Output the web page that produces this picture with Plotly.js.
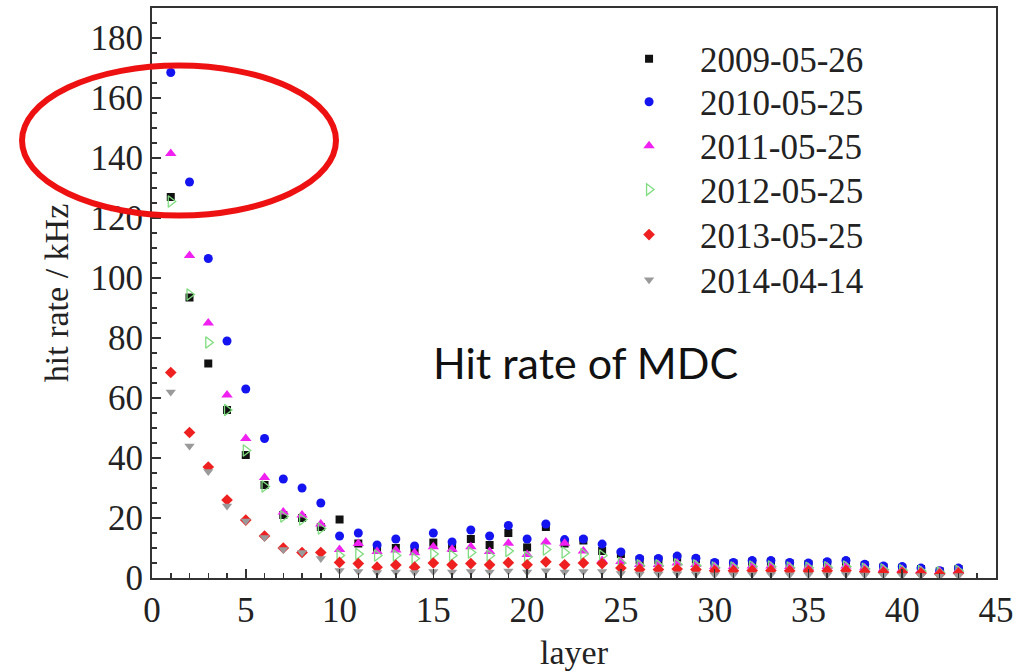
<!DOCTYPE html>
<html>
<head>
<meta charset="utf-8">
<script src="https://cdn.plot.ly/plotly-3.0.1.min.js"></script>
<style>html,body{margin:0;padding:0;background:#fff;}#chart{width:1033px;height:671px;}</style>
</head>
<body>
<div id="chart"></div>
<script>
const layers = Array.from({length: 43}, (_, i) => i + 1);
const seriesNames = ["2009-05-26", "2010-05-25", "2011-05-25", "2012-05-25", "2013-05-25", "2014-04-14"];

const rate2009 = [127, 93.5, 71.5, 56, 41, 31, 21, 20, 17, 19.5, 11.5, 9.5, 10, 9, 11.8, 10, 13, 11, 15, 10.2, 17, 11.5, 12.5, 9, 8, 6, 6, 6.8, 6.2, 4.8, 4.8, 5.4, 5.4, 4.8, 4.6, 5, 5.4, 4.2, 3.6, 3.4, 3, 2.2, 3];
const rate2010 = [168.5, 132, 106.5, 79, 63, 46.5, 33, 30, 25, 14, 15, 11, 13, 10.7, 15, 12, 16, 14, 17.5, 13, 18, 12.8, 13, 11.3, 8.7, 6.5, 6.5, 7.3, 6.6, 5.2, 5.2, 5.8, 5.8, 5.2, 5, 5.4, 5.8, 4.6, 4, 3.8, 3.3, 2.4, 3.3];
const rate2011 = [141.5, 107.5, 85, 61, 46.5, 33.5, 22, 21, 18, 9.5, 11.5, 8.8, 9.3, 8.4, 10.4, 9.6, 10.4, 8.8, 11.6, 7.8, 12, 11.6, 9, 5.8, 5.5, 4.5, 4.5, 5, 4.5, 3.8, 3.8, 4, 4, 3.8, 3.6, 3.8, 4, 3.4, 3, 2.8, 2.5, 2.2, 2.5];
const rate2012 = [125.5, 94.5, 78.5, 56, 42.5, 30.5, 20.5, 19.5, 16.5, 7.5, 8, 7.5, 7.5, 6.5, 8, 7.5, 8.5, 7.5, 9, 7, 9.5, 8.5, 8, 7.5, 5, 4.2, 4.2, 4.6, 4.2, 3.5, 3.5, 3.8, 3.8, 3.5, 3.4, 3.6, 3.8, 3.1, 2.8, 2.6, 2.3, 1.8, 2.3];
const rate2013 = [68.5, 48.5, 37, 26, 19.3, 14, 10, 8.5, 8.5, 5.2, 4.8, 3.6, 4.3, 3.6, 5, 4.4, 4.8, 4.4, 5.1, 4.4, 5.4, 4.4, 5, 4.8, 3.3, 2.8, 2.8, 3, 2.8, 2.4, 2.4, 2.5, 2.5, 2.4, 2.3, 2.4, 2.5, 2.1, 1.9, 1.8, 1.6, 1.3, 1.6];
const rate2014 = [62, 44, 35.5, 24, 19, 13.5, 9.5, 8.5, 6.5, 2.5, 2.2, 1.8, 2, 1.8, 2.2, 2, 2.2, 2, 2.3, 2, 2.4, 2, 2.2, 2.2, 1.5, 1.3, 1.3, 1.4, 1.3, 1.1, 1.1, 1.2, 1.2, 1.1, 1.1, 1.1, 1.2, 1, 0.9, 0.8, 0.8, 0.6, 0.8];

const allRates = [rate2009, rate2010, rate2011, rate2012, rate2013, rate2014];
const symbols = ["square", "circle", "triangle-up", "triangle-right-open", "diamond", "triangle-down"];
const colors = ["#111111", "#1414f0", "#f020f0", "#7fdc7f", "#ee2020", "#9a9a9a"];
const sizes = [8, 9, 10, 10, 9, 9];
const legendIds = ["legend", "legend2", "legend3", "legend4", "legend5", "legend6"];
const legendRowY = [0.9105, 0.835, 0.758, 0.681, 0.602, 0.523];

const traces = allRates.map((r, i) => ({
  x: layers, y: r, type: "scatter", mode: "markers", name: seriesNames[i], legend: legendIds[i],
  marker: {symbol: symbols[i], color: colors[i], size: sizes[i], line: {width: i === 3 ? 1.3 : 0, color: colors[i]}},
  cliponaxis: true
}));

const serif = "Liberation Serif";
const layout = {
  width: 1033, height: 671,
  margin: {l: 152, r: 37, t: 8, b: 93},
  paper_bgcolor: "#fff", plot_bgcolor: "#fff",
  showlegend: true,
  xaxis: {range: [0, 45], dtick: 5, tick0: 0, ticks: "inside", ticklen: 9, tickwidth: 1.5, tickcolor: "#333",
          minor: {dtick: 1, ticks: "inside", ticklen: 5, tickcolor: "#333", tickwidth: 1.5},
          showline: true, linecolor: "#333", linewidth: 2, mirror: true, showgrid: false, zeroline: false,
          tickfont: {family: serif, size: 35, color: "#222"},
          title: {text: "layer", font: {family: serif, size: 34, color: "#222"}, standoff: 14}},
  yaxis: {range: [0, 190], dtick: 20, tick0: 0, ticks: "inside", ticklen: 9, tickwidth: 1.5, tickcolor: "#333",
          minor: {dtick: 5, ticks: "inside", ticklen: 5, tickcolor: "#333", tickwidth: 1.5},
          showline: true, linecolor: "#333", linewidth: 2, mirror: true, showgrid: false, zeroline: false,
          tickfont: {family: serif, size: 35, color: "#222"},
          title: {text: "hit rate / kHz", font: {family: serif, size: 34, color: "#222"}, standoff: 12}},
  annotations: [{x: 23.1, y: 72, xref: "x", yref: "y", text: "Hit rate of MDC", showarrow: false,
                 font: {family: "Lato", size: 43, color: "#111"}}],
  shapes: [{type: "circle", xref: "paper", yref: "paper", x0: -0.154, x1: 0.218, y0: 0.636, y1: 0.899,
            line: {color: "#ee1111", width: 6}, fillcolor: "rgba(0,0,0,0)"}]
};
legendIds.forEach((id, i) => {
  layout[id] = {x: 0.5285, y: legendRowY[i], xanchor: "left", yanchor: "middle", bgcolor: "rgba(0,0,0,0)",
                font: {family: serif, size: 35, color: "#222"}, itemwidth: 92};
});
Plotly.newPlot("chart", traces, layout, {displayModeBar: false, staticPlot: true});
</script>
</body>
</html>
